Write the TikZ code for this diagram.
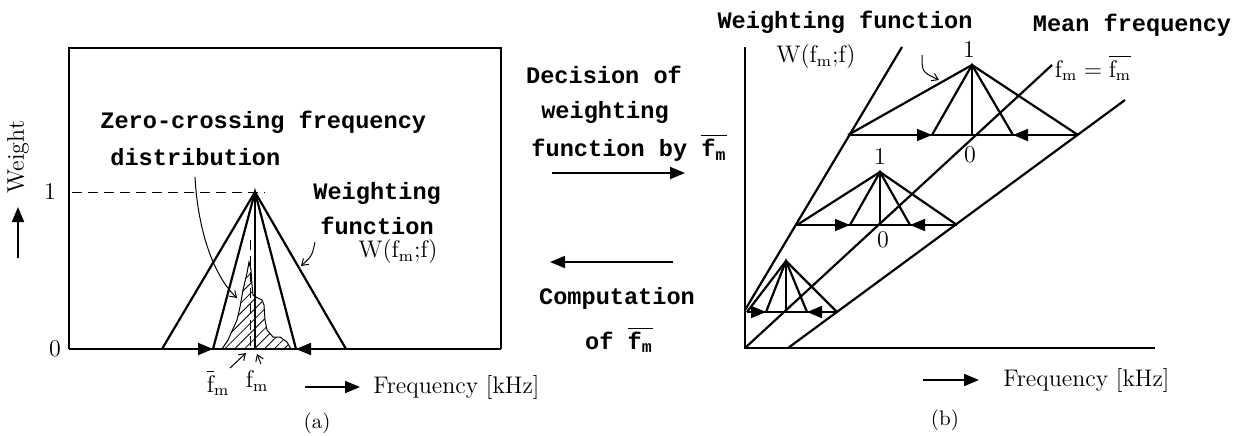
\documentclass[tikz,border=0pt]{standalone}
\usepackage{amsmath}
\usepackage{fontspec}
\newfontfamily\monofont{Liberation Mono}
\usetikzlibrary{arrows.meta,patterns.meta}

\begin{document}
\begin{tikzpicture}[
    x=0.5pt, y=-0.5pt,
    wline/.style={line width=1.1pt},
    tline/.style={line width=0.5pt},
    bline/.style={line width=0.8pt},
    dline/.style={line width=0.5pt, dash pattern=on 5pt off 3pt},
    arr/.style={-{Triangle[length=7.5pt,width=6pt]}, line width=0.9pt},
    carr/.style={-{Straight Barb[length=3pt,width=4pt]}, line width=0.5pt},
    hatch/.style={line width=0.5pt, pattern={Lines[angle=45,distance=3.5pt,line width=0.4pt]}},
    mlbl/.style={font=\monofont\bfseries\fontsize{11.8}{13}\selectfont, inner sep=0pt},
    rlbl/.style={font=\fontsize{12}{14}\selectfont, inner sep=0pt},
    subcap/.style={font=\fontsize{10.5}{12}\selectfont, inner sep=0pt}
]
\useasboundingbox (0,0) rectangle (1233,435);

% ---------- (a) ----------
\draw[bline] (69,349) -- (69,48) -- (501,48) -- (501,349);
\draw[wline] (69,349) -- (501,349);

\coordinate (aP) at (255,192);
\coordinate (aL) at (162,349);
\coordinate (aR) at (346,349);
\coordinate (aLi) at (213,349);
\coordinate (aRi) at (296,349);
\coordinate (aC) at (255,349);
\coordinate (aLa) at (192,349);
\coordinate (aRa) at (318,349);

\node[rlbl] (one) at (50,192) {1};
\node[rlbl] (zero) at (55,349) {0};
\draw[dline, shorten <=8pt, shorten >=-5pt] (one.east) -- (aP);

% zero-crossing distribution
\draw[hatch] (222,349) -- (228,340) -- (237,320) -- (240,307) -- (243,290)
    -- (247,273) -- (249,262) -- (251,270) -- (252,285) -- (253,295)
    -- (256,297) -- (262,300) -- (264,305) -- (265,320) -- (267,330)
    -- (273,337) -- (280,337) -- (287,342) -- (291,349) -- cycle;
\draw[dline] (250,240) -- (250,349);

\draw[wline] (aL) -- (aP) -- (aR);
\draw[wline] (aLi) -- (aP) -- (aRi);
\draw[wline] (aP) -- (aC);
\draw[arr] (aLa) -- (aLi);
\draw[arr] (aRa) -- (aRi);

\node[rlbl, rotate=90] (wt) at (18,157) {Weight};
\coordinate (wtA) at (18,258);
\coordinate (wtB) at (18,207);
\draw[arr] (wtA) -- (wtB);

\node[mlbl, anchor=west] (zc) at (100,122) {Zero-crossing frequency};
\node[mlbl, anchor=west] (zd) at (110,157) {distribution};
\coordinate (zdS) at (195,177);
\coordinate (zdE) at (237,298);
\draw[carr] (zdS) .. controls (198,232) and (214,276) .. (zdE);

\node[mlbl, anchor=west] (wfa) at (313,193) {Weighting};
\node[mlbl, anchor=west] (wfb) at (320,226) {function};
\node[rlbl, anchor=west] (wA) at (358,252) {W($\mathrm{f}_\mathrm{m}$;f)};
\coordinate (wAS) at (315,242);
\coordinate (wAE) at (301,266);
\draw[carr] (wAS) .. controls (312,256) .. (wAE);

\node[rlbl] (fbar) at (218,383) {$\overline{\mathrm{f}}_\mathrm{m}$};
\node[rlbl] (fm) at (257,381) {$\mathrm{f}_\mathrm{m}$};
\coordinate (fbarE) at (246,353);
\coordinate (fmE) at (257,354);
\draw[carr] (230,368) -- (fbarE);
\draw[carr] (261,364) -- (fmE);

\coordinate (faS) at (305,387);
\coordinate (faE) at (360,387);
\draw[arr] (faS) -- (faE);
\node[rlbl, anchor=west] (fqa) at (373,387) {Frequency [kHz]};
\node[subcap] (capa) at (317,423) {(a)};

% ---------- middle ----------
\node[mlbl] (dec1) at (604,75) {Decision of};
\node[mlbl] (dec2) at (605,112) {weighting};
\node[mlbl] (dec3) at (629,148) {function by $\overline{\text{f}_\text{m}}$};
\coordinate (dA) at (552,173);
\coordinate (dB) at (685,173);
\draw[arr] (dA) -- (dB);
\coordinate (cA) at (673,262);
\coordinate (cB) at (550,262);
\draw[arr] (cA) -- (cB);
\node[mlbl] (cmp1) at (617,298) {Computation};
\node[mlbl] (cmp2) at (619,340) {of $\overline{\text{f}_\text{m}}$};

% ---------- (b) ----------
\coordinate (bTop) at (745,47);
\coordinate (bO) at (745,348);
\coordinate (bEnd) at (1155,348);
\draw[wline] (bTop) -- (bO) -- (bEnd);

\coordinate (sA1) at (745,310);
\coordinate (sA2) at (902,47);
\coordinate (mM2) at (1052,65);
\coordinate (rB1) at (788,348);
\coordinate (rB2) at (1125,100);
\draw[wline] (sA1) -- (sA2);
\draw[wline] (bO) -- (mM2);
\draw[wline] (rB1) -- (rB2);

% upper weighting function
\coordinate (uP) at (972,65);
\coordinate (uL) at (848,135);
\coordinate (uR) at (1078,135);
\coordinate (uLi) at (932,135);
\coordinate (uRi) at (1013,135);
\coordinate (uC) at (972,135);
\draw[wline] (uL) -- (uR);
\draw[wline] (uL) -- (uP) -- (uR);
\draw[wline] (uLi) -- (uP) -- (uRi);
\draw[wline] (uP) -- (uC);
\draw[arr] (912,135) -- (uLi);
\draw[arr] (1033,135) -- (uRi);
\node[rlbl] (u1) at (969,50) {1};
\node[rlbl] (u0) at (970,155) {0};

% middle weighting function
\coordinate (vP) at (880,172);
\coordinate (vL) at (797,225);
\coordinate (vR) at (957,225);
\coordinate (vLi) at (850,225);
\coordinate (vRi) at (910,225);
\coordinate (vC) at (880,225);
\draw[wline] (vL) -- (vR);
\draw[wline] (vL) -- (vP) -- (vR);
\draw[wline] (vLi) -- (vP) -- (vRi);
\draw[wline] (vP) -- (vC);
\draw[arr] (830,225) -- (vLi);
\draw[arr] (930,225) -- (vRi);
\node[rlbl] (v1) at (880,157) {1};
\node[rlbl] (v0) at (883,240) {0};

% lower weighting function
\coordinate (wP) at (786,261);
\coordinate (wL) at (747,312);
\coordinate (wR) at (837,312);
\coordinate (wLi) at (766,312);
\coordinate (wRi) at (807,312);
\coordinate (wC) at (786,312);
\draw[wline] (wL) -- (wR);
\draw[wline] (wL) -- (wP) -- (wR);
\draw[wline] (wLi) -- (wP) -- (wRi);
\draw[wline] (wP) -- (wC);
\draw[arr] (747,312) -- (wLi);
\draw[arr] (826,312) -- (wRi);

\node[mlbl] (wfB) at (845,22) {Weighting function};
\node[mlbl] (mf) at (1132,25) {Mean frequency};
\node[rlbl] (wB) at (816,57) {W($\mathrm{f}_\mathrm{m}$;f)};
\node[rlbl] (fmeq) at (1093,68) {$\mathrm{f}_\mathrm{m}=\overline{\mathrm{f}_\mathrm{m}}$};
\coordinate (wBS) at (922,55);
\coordinate (wBE) at (939,80);
\draw[carr] (wBS) .. controls (922,72) .. (wBE);

\coordinate (fbS) at (923,380);
\coordinate (fbE) at (979,380);
\draw[arr] (fbS) -- (fbE);
\node[rlbl, anchor=west] (fqb) at (1003,380) {Frequency [kHz]};
\node[subcap] (capb) at (945,420) {(b)};
\end{tikzpicture}
\end{document}
